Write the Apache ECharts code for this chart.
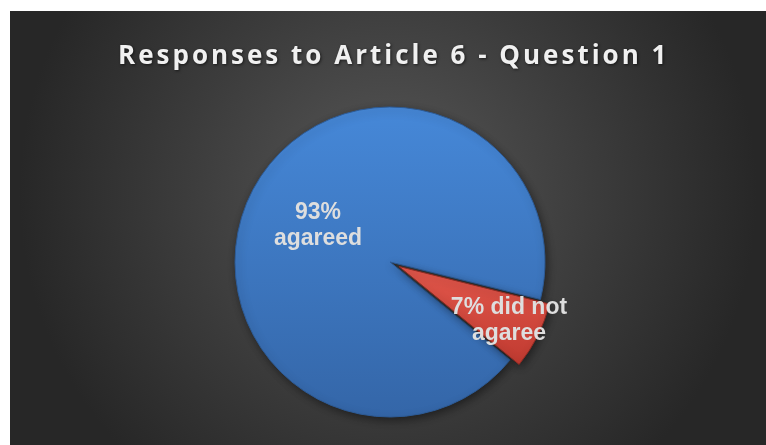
<!DOCTYPE html>
<html>
<head>
<meta charset="utf-8">
<script src="https://cdn.jsdelivr.net/npm/echarts@6/dist/echarts.min.js"></script>
<style>
  html, body { margin: 0; padding: 0; background: #fff; }
  #main { width: 766px; height: 445px; }
</style>
</head>
<body>
<div id="main"></div>
<script>
// chart data
var categories = ['agareed', 'did not agaree'];
var values = [93, 7];
var labelTexts = ['93%\nagareed', '7% did not\nagaree'];

var chart = echarts.init(document.getElementById('main'));

var fills = [
  { type: 'linear', x: 0, y: 0, x2: 0, y2: 1,
    colorStops: [{ offset: 0, color: '#4688d8' }, { offset: 1, color: '#3466a8' }] },
  { type: 'linear', x: 0, y: 0, x2: 0, y2: 1,
    colorStops: [{ offset: 0, color: '#e3584c' }, { offset: 1, color: '#c03a30' }] }
];
var borders = ['#2d5b96', '#8e2a22'];

// one series per slice so the small slice can be pulled out of the pie
function sliceSeries(idx, center) {
  return {
    type: 'pie',
    center: center,
    radius: 155,
    startAngle: -39.2,
    clockwise: true,
    silent: true,
    emphasis: { disabled: true },
    labelLine: { show: false },
    label: {
      show: true,
      position: 'inside',
      color: '#dedede',
      fontFamily: 'Liberation Sans',
      fontWeight: 'bold',
      fontSize: 23,
      lineHeight: 26,
      rich: { gap: { lineHeight: 36, fontSize: 10 } },
      formatter: function (p) {
        if (p.dataIndex !== idx) return '';
        return idx === 1 ? '{gap| }\n' + labelTexts[1] : labelTexts[idx];
      }
    },
    data: categories.map(function (c, i) {
      var on = i === idx;
      return {
        name: c,
        value: values[i],
        label: (on && idx === 1) ? { padding: [0, 0, 0, 76] } : {},
        itemStyle: on ? {
          color: fills[i],
          borderColor: borders[i],
          borderWidth: 1,
          shadowBlur: 8,
          shadowColor: 'rgba(0,0,0,0.45)',
          shadowOffsetX: 2,
          shadowOffsetY: 3
        } : { color: 'rgba(0,0,0,0)', borderWidth: 0 }
      };
    })
  };
}

var option = {
  backgroundColor: '#ffffff',
  animation: false,
  graphic: [{
    type: 'rect',
    z: -10,
    shape: { x: 10, y: 11, width: 756, height: 434 },
    style: {
      fill: {
        type: 'radial', x: 0.5, y: 0.42, r: 0.85,
        colorStops: [
          { offset: 0, color: '#575757' },
          { offset: 0.55, color: '#3c3c3c' },
          { offset: 1, color: '#272727' }
        ]
      }
    }
  }],
  title: {
    text: 'Responses to Article 6 - Question 1',
    zlevel: 1,
    left: 113,
    top: 39,
    textStyle: {
      color: '#f0f0f0',
      fontFamily: 'Open Sans',
      fontWeight: 'bold',
      fontSize: 26,
      textShadowColor: 'rgba(0,0,0,0.6)',
      textShadowBlur: 3,
      textShadowOffsetX: 1,
      textShadowOffsetY: 1
    }
  },
  series: [
    sliceSeries(0, [390, 262]),
    sliceSeries(1, [399, 266.5])
  ]
};

chart.setOption(option);

// spread the title letters like the original (title sits on its own canvas layer)
var titleLayer = chart.getZr().painter.getLayer(1);
if (titleLayer && titleLayer.ctx) {
  titleLayer.ctx.letterSpacing = '3px';
  titleLayer.__dirty = true;
  chart.getZr().refreshImmediately();
  chart.getZr().painter.refresh(true);
}
</script>
</body>
</html>
